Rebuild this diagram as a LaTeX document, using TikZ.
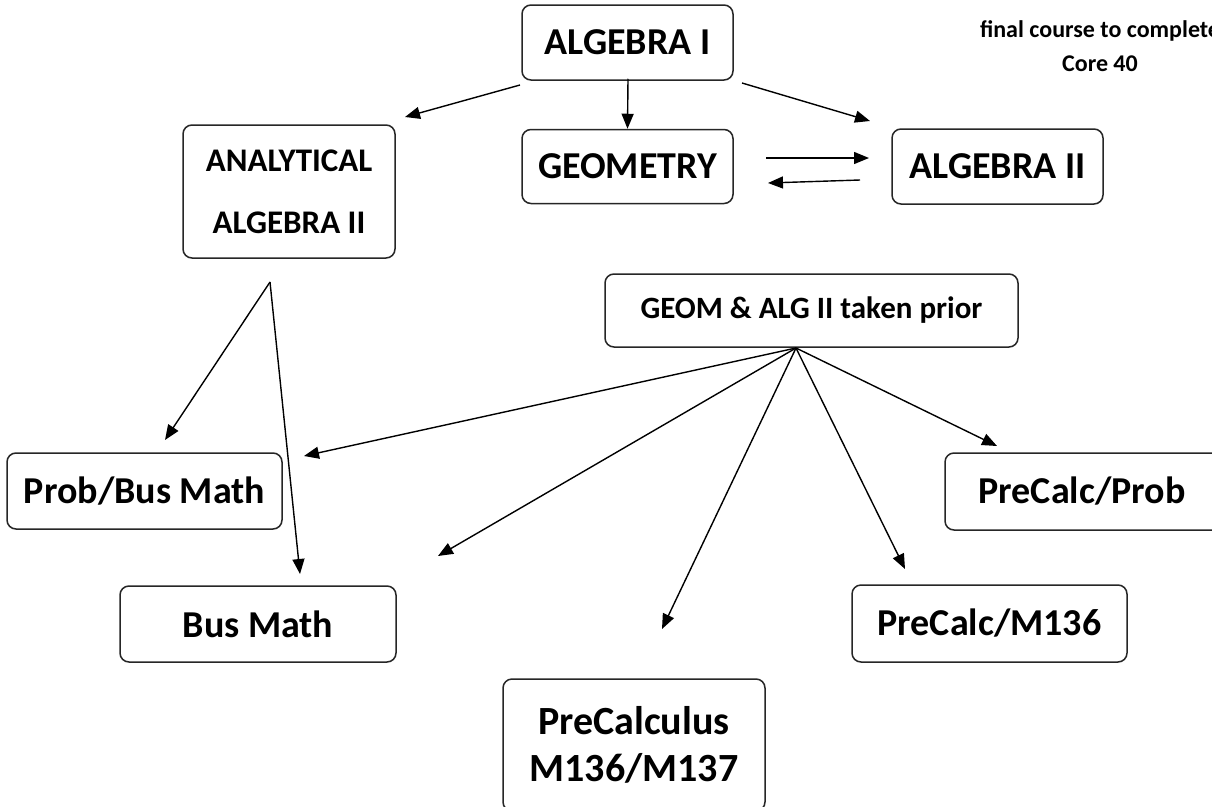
\documentclass[tikz,border=0pt]{standalone}
\usepackage{fontspec}
\setmainfont{Carlito}
\usetikzlibrary{arrows.meta}
\tikzset{
  box/.style={draw=black!85, line width=1.5pt, rounded corners=9pt, fill=white,
    inner sep=0pt, align=center, font=\bfseries},
  arr/.style={draw=black, line width=1.4pt, -{Triangle[length=15pt,width=12pt]}},
  big/.style={font=\bfseries\fontsize{38}{44}\selectfont},
}
\begin{document}
\begin{tikzpicture}[x=1pt,y=-1pt]
\useasboundingbox (0,0) rectangle (1212,806);
\clip (0,0) rectangle (1212,806);
\fill[white] (0,0) rectangle (1212,806);

% boxes
\node[box, big, minimum width=211pt, minimum height=75pt] (alg1) at (627.5,42.5) {ALGEBRA I};
\node[box, big, minimum width=211pt, minimum height=74pt] (geo) at (627.5,166.5) {GEOMETRY};
\node[box, big, minimum width=211pt, minimum height=75pt] (alg2) at (997.5,166.5) {ALGEBRA II};
\node[box, font=\bfseries\fontsize{33}{62}\selectfont, minimum width=212pt, minimum height=133pt] (anal) at (289,191.5) {ANALYTICAL\\ALGEBRA II};
\node[box, font=\bfseries\fontsize{31}{36}\selectfont, minimum width=413pt, minimum height=73pt] (gap) at (811.5,310.5) {GEOM \& ALG II taken prior};
\node[box, big, minimum width=275pt, minimum height=76pt] (pbm) at (144.5,491) {Prob/Bus Math};
\node[box, big, minimum width=276pt, minimum height=76pt] (bm) at (258,624) {Bus Math};
\node[box, big, minimum width=285pt, minimum height=77pt] (pcp) at (1087.5,491.5) {\hspace*{-11pt}PreCalc/Prob};
\node[box, big, minimum width=275pt, minimum height=77pt] (pcm) at (989.5,623.5) {PreCalc/M136};
\node[box, font=\bfseries\fontsize{40}{47}\selectfont, minimum width=262pt, minimum height=132pt] (pc) at (634,745) {PreCalculus\\M136/M137};

% note
\node[font=\bfseries\fontsize{24}{34}\selectfont, align=center, inner sep=0pt] (note) at (1100,46) {final course to complete\\Core 40};

% arrow end points
\coordinate (s1) at (520,85);   \coordinate (t1) at (405,117);
\coordinate (s3) at (742,83);   \coordinate (t3) at (870,121);
\coordinate (s4) at (766,158);  \coordinate (t4) at (869,158);
\coordinate (s5) at (860,180);  \coordinate (t5) at (768,183);
\coordinate (aa) at (270,282);
\coordinate (t6) at (165,440);
\coordinate (t7) at (300,574);
\coordinate (gg) at (796,348);
\coordinate (t8) at (304,456);
\coordinate (t9) at (438,556);
\coordinate (t10) at (662,629);
\coordinate (t11) at (905,569);
\coordinate (t12) at (997,446);

% connectors
\draw[arr] (s1) -- (t1);
\draw[arr] (alg1.south) ++(0.5,-2) -- (geo.north);
\draw[arr] (s3) -- (t3);
\draw[arr] (s4) -- (t4);
\draw[arr] (s5) -- (t5);
\draw[arr] (aa) -- (t6);
\draw[arr] (aa) -- (t7);
\draw[arr] (gg) -- (t8);
\draw[arr] (gg) -- (t9);
\draw[arr] (gg) -- (t10);
\draw[arr] (gg) -- (t11);
\draw[arr] (gg) -- (t12);
\end{tikzpicture}
\end{document}
